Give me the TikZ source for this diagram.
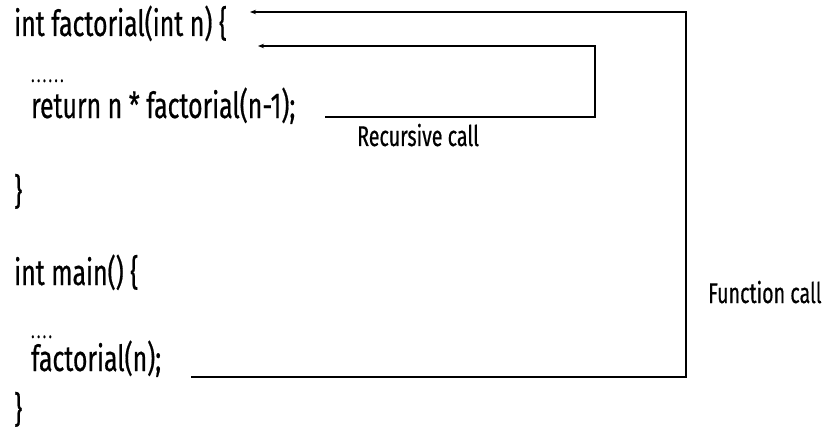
\documentclass[tikz,border=0pt]{standalone}
\usepackage{fontspec}
\setmainfont[FakeStretch=0.69,FakeBold=0.5]{Fira Sans}
\usetikzlibrary{arrows.meta}
\begin{document}
\begin{tikzpicture}[x=1pt,y=-1pt,
  code/.style={anchor=base west,inner sep=0pt,font=\fontsize{36}{40}\selectfont},
  dots/.style={anchor=base west,inner sep=0pt,font=\fontsize{20}{22}\selectfont},
  lbl/.style={anchor=base west,inner sep=0pt,font=\fontsize{28.5}{30}\selectfont},
  conn/.style={line width=1.3pt,-{Stealth[length=6pt,width=4.5pt]}}]
\useasboundingbox (0,0) rectangle (828,436);
\node[code] (l1) at (14,36) {int factorial(int n) \{};
\node[dots] (l2) at (31,82) {.\kern2.5pt.\kern2.5pt.\kern2.5pt.\kern2.5pt.\kern2.5pt.};
\node[code] (l3) at (31,118) {return n * factorial(n-1);};
\node[code] (l4) at (14,204) {\}};
\node[code] (l5) at (14,285) {int main() \{};
\node[dots] (l6) at (31,338) {.\kern2.5pt.\kern2.5pt.\kern2.5pt.};
\node[code] (l7) at (31,371) {factorial(n);};
\node[code] (l8) at (14,422) {\}};
\node[lbl] (rc) at (357,146) {Recursive call};
\node[lbl] (fc) at (708,303) {Function call};
\coordinate (r0) at (325,117);
\coordinate (r1) at (595,117);
\coordinate (r2) at (595,46);
\coordinate (r3) at (258,46);
\draw[conn] (r0) -- (r1) -- (r2) -- (r3);
\coordinate (f0) at (191,377);
\coordinate (f1) at (686,377);
\coordinate (f2) at (686,12);
\coordinate (f3) at (250,12);
\draw[conn] (f0) -- (f1) -- (f2) -- (f3);
\end{tikzpicture}
\end{document}
